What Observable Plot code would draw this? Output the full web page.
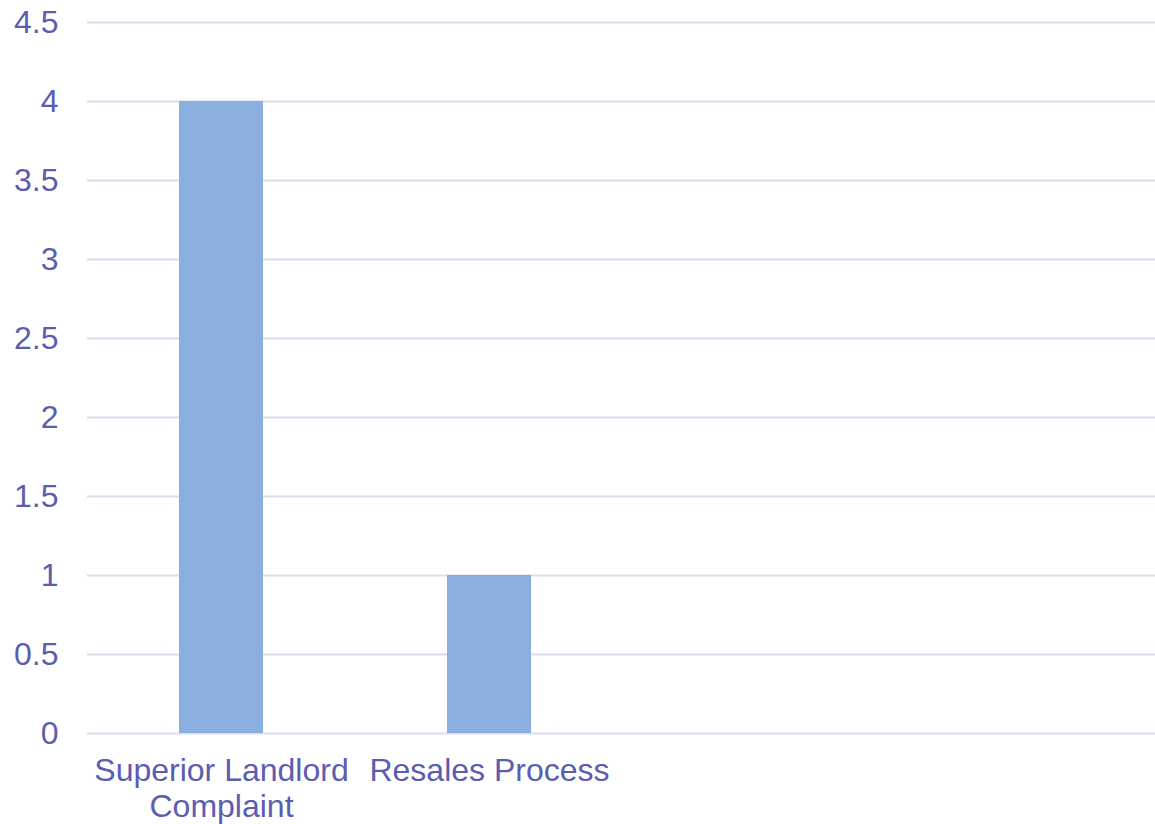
<!DOCTYPE html>
<html>
<head>
<meta charset="utf-8">
<script src="https://cdn.jsdelivr.net/npm/d3@7"></script>
<script src="https://cdn.jsdelivr.net/npm/@observablehq/plot@0.6"></script>
<style>
  html, body { margin: 0; padding: 0; background: #fff; }
  #chart svg { display: block; }
</style>
</head>
<body>
<div id="chart"></div>
<script>
const categories = ["Superior Landlord Complaint", "Resales Process", "", " "];
const values = [4, 1, 0, 0];
const yTicks = [0, 0.5, 1, 1.5, 2, 2.5, 3, 3.5, 4, 4.5];

const data = categories.map((c, i) => ({category: c, value: values[i]}));

const textColor = "#5A5DB0";
const gridColor = "#DCDCEF";
const barColor = "#8AAEDD";

const chart = Plot.plot({
  width: 1155,
  height: 824,
  marginLeft: 87,
  marginRight: 0,
  marginTop: 22,
  marginBottom: 91,
  style: {fontFamily: "'Liberation Sans', Arial, sans-serif", fontSize: "32px", color: textColor, background: "#fff"},
  x: {domain: categories, range: [87, 1159], paddingInner: 0.685, paddingOuter: 0.3425, label: null},
  y: {domain: [0, 4.5], label: null},
  marks: [
    Plot.ruleY(yTicks, {stroke: gridColor, strokeWidth: 2}),
    Plot.barY(data.filter(d => d.value > 0), {x: "category", y: "value", fill: barColor}),
    Plot.axisY({ticks: yTicks, tickSize: 0, tickPadding: 29, fill: textColor, fontSize: 32, tickFormat: d => String(d)}),
    Plot.axisX({tickSize: 0, tickPadding: 22, fill: textColor, fontSize: 32, lineWidth: 10, lineHeight: 1.12})
  ]
});
document.getElementById("chart").appendChild(chart);
</script>
</body>
</html>
